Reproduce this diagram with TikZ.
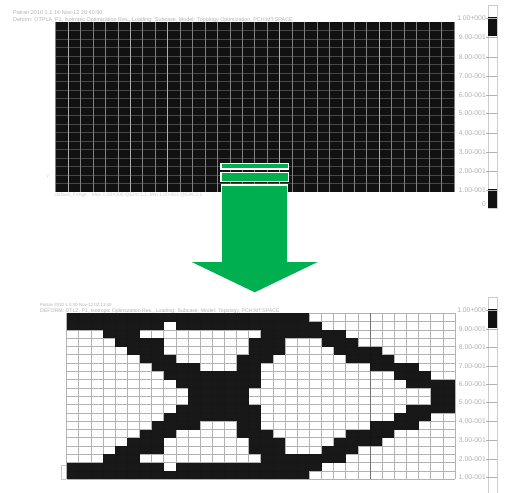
\documentclass[tikz,border=0pt]{standalone}
\usepackage{fontspec}
\setmainfont{Liberation Sans}
\definecolor{arrowgreen}{HTML}{00B050}
\definecolor{cellblack}{HTML}{111111}
\tikzset{
  gridline/.style={draw=black!30,line width=0.7pt},
  gridstrong/.style={draw=black!55,line width=0.8pt},
  topgridv/.style={draw=black!50,line width=0.8pt},
  topgridh/.style={draw=black!72,line width=0.7pt},
  scalelabel/.style={text=black!32,font=\fontsize{6.8}{7}\selectfont,inner sep=0pt,anchor=east},
  headtext/.style={text=black!30,inner sep=0pt,anchor=west},
  scalebar/.style={draw=black!20,line width=0.7pt,fill=white},
  scaletick/.style={draw=black!30,line width=0.6pt},
  greenpart/.style={fill=arrowgreen,draw=white,line width=1.3pt},
}
\begin{document}
\begin{tikzpicture}[x=1pt,y=-1pt]
\useasboundingbox (0,0) rectangle (505,492);
\fill[white] (0,0) rectangle (505,492);
% ---------- upper mesh
\fill[cellblack] (55.7,22) rectangle (454,192.3);
\foreach \i in {1,...,19} \draw[topgridh] (55.7,22+8.515*\i) -- (454,22+8.515*\i);
\foreach \i in {0,...,32} \draw[topgridv] (55.7+12.447*\i,22) -- (55.7+12.447*\i,192.3);
\foreach \i in {1,6,9,18,26} \draw[draw=black!32,line width=0.9pt] (55.7+12.447*\i,22) -- (55.7+12.447*\i,192.3);
\node[headtext,font=\fontsize{5.5}{6}\selectfont] (h1) at (13,12.5) {Patran 2010 1.1 14-Nov-12 20:40:50};
\node[headtext,font=\fontsize{5.4}{6}\selectfont] (h2) at (13,19.8) {Deform: OTPLA, P1, Isotropic Optimization Res., Loading: Subcase, Model: Topology Optimization, PCH:MT:SPACE};
\node[headtext,text=black!15,font=\fontsize{5}{6}\selectfont] (yu) at (46,177) {Y};
\node[headtext,text=black!18,font=\fontsize{5}{6}\selectfont] (fu) at (55,195.5) {default\_Fringe : Max 1.00+000 @Elm 1.1, Min 1.00-001 @Elm 2.1};
% upper scale
\draw[scalebar] (488,5) rectangle (497,208);
\fill[cellblack] (488,17.5) rectangle (497,36);
\fill[cellblack] (488,189) rectangle (497,208);
\foreach \t/\yy/\n in {1.00+000/18/a,9.00-001/37/b,8.00-001/57/c,7.00-001/76/d,6.00-001/95/e,5.00-001/113/f,4.00-001/133/g,3.00-001/152/h,2.00-001/171/i,1.00-001/190/j}{
  \node[scalelabel] (u\n) at (486,\yy) {\t};
  \draw[scaletick] (486,\yy) -- (497,\yy);
}
\node[scalelabel] (u0) at (486,204) {0};
% ---------- lower mesh
\foreach \i in {0,...,20} \draw[gridline] (66.7,313.3+8.3*\i) -- (455,313.3+8.3*\i);
\foreach \i in {0,...,32} \draw[gridline] (66.7+12.134*\i,313.3) -- (66.7+12.134*\i,479.3);
\foreach \i in {25} \draw[gridstrong] (66.7+12.134*\i,313.3) -- (66.7+12.134*\i,479.3);
\foreach \r/\a/\b in {
 0/0/19,
 1/0/7,1/9/20,
 2/3/5,2/16/22,
 3/4/7,3/15/17,3/21/23,
 4/5/7,4/15/17,4/22/25,
 5/6/8,5/14/16,5/23/26,
 6/7/10,6/14/15,6/25/28,
 7/8/15,7/27/29,
 8/9/15,8/28/31,
 9/10/14,9/30/31,
 10/10/14,10/30/31,
 11/9/15,11/28/31,
 12/8/15,12/27/29,
 13/7/10,13/14/15,13/25/28,
 14/6/8,14/14/16,14/23/26,
 15/5/7,15/15/17,15/22/25,
 16/4/7,16/15/17,16/21/23,
 17/3/5,17/16/22,
 18/0/7,18/9/20,
 19/0/19}{
  \fill[cellblack,fill opacity=0.97] ({66.7+12.134*\a},{313.3+8.3*\r}) rectangle ({66.7+12.134*(\b+1)},{313.3+8.3*(\r+1)});
}
\node[headtext,font=\fontsize{4.4}{5}\selectfont] (h3) at (40,305) {Patran 2010 1.0 30-Nov-12 02:13:40};
\node[headtext,font=\fontsize{5.2}{6}\selectfont] (h4) at (40,311.5) {DEFORM: DTLZ, P1, Isotropic Optimization Res., Loading: Subcase, Model: Topology, PCH:MT:SPACE};
\draw[black!22,line width=0.7pt] (66,465) -- (61.5,465) -- (61.5,479.5) -- (66,479.5);
% lower scale
\draw[scalebar] (488,297) rectangle (497,496);
\fill[cellblack] (488,309) rectangle (497,328);
\foreach \t/\yy/\n in {1.00+000/310/a,9.00-001/329/b,8.00-001/347/c,7.00-001/366/d,6.00-001/384/e,5.00-001/402/f,4.00-001/421/g,3.00-001/440/h,2.00-001/459/i,1.00-001/477/j}{
  \node[scalelabel] (l\n) at (486,\yy) {\t};
  \draw[scaletick] (486,\yy) -- (497,\yy);
}
% ---------- green arrow
\fill[arrowgreen,draw=white,line width=1.3pt] (221.7,185) rectangle (287.7,263);
\fill[arrowgreen] (191.7,262) -- (221.7,262) -- (287.7,262) -- (317.7,262) -- (254.7,292.3) -- cycle;
\path[greenpart] (221,163.5) rectangle (288.5,169);
\path[greenpart] (221,172.5) rectangle (288.5,181.5);
\end{tikzpicture}
\end{document}
